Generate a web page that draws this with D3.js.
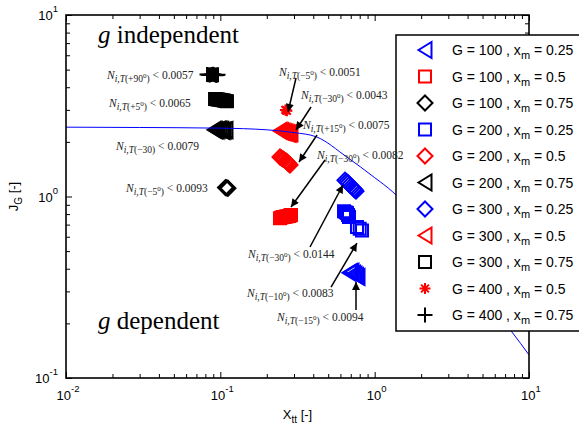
<!DOCTYPE html>
<html><head><meta charset="utf-8">
<script src="https://cdn.jsdelivr.net/npm/d3@7"></script>
<style>body{margin:0;background:#fff}</style>
</head><body>
<svg id="c" width="579" height="427"></svg>
<script>
// ---------- DATA ----------
const gValues  = [100,100,100,200,200,200,300,300,300,400,400];
const xmValues = ["0.25","0.5","0.75","0.25","0.5","0.75","0.25","0.5","0.75","0.5","0.75"];

// [X_tt, J_G] points for each series (overlapping runs)
const G100_xm025 = [[0.682,0.38],[0.697,0.383],[0.713,0.385],[0.73,0.375],[0.746,0.37],[0.763,0.365],[0.78,0.36]];
const G100_xm05  = [[0.2435,0.76],[0.249,0.765],[0.2547,0.77],[0.260,0.772],[0.2664,0.775],[0.272,0.778],[0.2786,0.78],[0.283,0.785],[0.287,0.79]];
const G100_xm075 = [[0.108,1.12],[0.110,1.115],[0.112,1.11]];
const G200_xm025 = [[0.633,0.83],[0.648,0.82],[0.662,0.81],[0.672,0.79],[0.682,0.77],[0.768,0.68],[0.80,0.665],[0.828,0.65]];
const G200_xm05  = [[0.2435,1.65],[0.249,1.63],[0.2547,1.61],[0.260,1.59],[0.2664,1.57],[0.2705,1.55],[0.2745,1.53],[0.2785,1.51],[0.2828,1.49]];
const G200_xm075 = [[0.091,2.33],[0.093,2.32],[0.0952,2.31],[0.097,2.33],[0.0995,2.34],[0.102,2.32],[0.104,2.30],[0.106,2.31],[0.1088,2.32]];
const G300_xm025 = [[0.642,1.23],[0.657,1.21],[0.672,1.19],[0.687,1.165],[0.703,1.14],[0.719,1.12],[0.735,1.10],[0.746,1.085],[0.757,1.07]];
const G300_xm05  = [[0.2435,2.30],[0.249,2.29],[0.2547,2.27],[0.260,2.26],[0.2664,2.25],[0.272,2.23],[0.2786,2.22],[0.283,2.23],[0.287,2.24]];
const G300_xm075 = [[0.0924,3.44],[0.0945,3.43],[0.0966,3.42],[0.0988,3.41],[0.101,3.40],[0.1033,3.39],[0.1056,3.38],[0.108,3.36],[0.1104,3.35]];
const G400_xm05  = [[0.264,3.0],[0.267,2.985],[0.270,2.97]];
const G400_xm075 = [[0.082,4.70],[0.0838,4.69],[0.0857,4.67],[0.0877,4.70],[0.0897,4.72],[0.0917,4.68],[0.0937,4.65],[0.0952,4.67],[0.0966,4.68]];

const correlationX = [0.01,0.03,0.1,0.2,0.3,0.42,0.66,1.0,1.31,2.5,5,7.76,10];
const correlationJ = [2.41,2.40,2.38,2.33,2.25,2.13,1.65,1.27,1.06,0.555,0.277,0.179,0.134];

const xTickValues = [0.01,0.1,1,10];
const xTickExp = ["-2","-1","0","1"];
const yTickValues = [0.1,1,10];
const yTickExp = ["-1","0","1"];

// annotations
const annotAngle  = ["+90","+5","\u221230","\u22125","\u22125","\u221230","+15","\u221230","\u221230","\u221210","\u221215"];
const annotDegree = [true,true,false,true,true,true,true,true,true,true,true];
const annotLimit  = ["0.0057","0.0065","0.0079","0.0093","0.0051","0.0043","0.0075","0.0082","0.0144","0.0083","0.0094"];
const annotLabelX = [0.01843,0.0190,0.02109,0.02448,0.2400,0.3332,0.3433,0.4231,0.1511,0.1489,0.2330];
const annotLabelJ = [4.44,3.112,1.804,1.059,4.612,3.444,2.354,1.609,0.4584,0.2794,0.2061];
const arrowFromX = [0.3093,0.3869,0.4231,0.4768,0.3811,0.5215,0.757];
const arrowFromJ = [4.497,3.112,2.182,1.589,0.527,0.317,0.237];
const arrowToX   = [0.2746,0.3093,0.3233,0.2870,0.6234,0.768,0.757];
const arrowToJ   = [2.922,2.325,1.549,0.875,1.157,0.554,0.338];

// ---------- STYLE / LAYOUT ----------
const seriesData = [G100_xm025,G100_xm05,G100_xm075,G200_xm025,G200_xm05,G200_xm075,G300_xm025,G300_xm05,G300_xm075,G400_xm05,G400_xm075];
const seriesStyle = [
  {shape:"tri",color:"#0000ff"},{shape:"sq",color:"#ff0000"},{shape:"dia",color:"#000"},
  {shape:"sq",color:"#0000ff"},{shape:"dia",color:"#ff0000"},{shape:"tri",color:"#000"},
  {shape:"dia",color:"#0000ff"},{shape:"tri",color:"#ff0000"},{shape:"sq",color:"#000"},
  {shape:"ast",color:"#ff0000"},{shape:"plus",color:"#000"}
];
const shapePath = {
  tri:"M-6.5,0L6.5,-8L6.5,8Z",
  sq:"M-6,-6H6V6H-6Z",
  dia:"M0,-7.5L7.5,0L0,7.5L-7.5,0Z",
  plus:"M-7.5,0H7.5M0,-7.5V7.5",
  ast:"M-5.5,0H5.5M0,-5.5V5.5M-3.9,-3.9L3.9,3.9M-3.9,3.9L3.9,-3.9"
};
const W=579,H=427;
const M={left:66,right:529,top:15,bottom:378};
const sans="'Liberation Sans', Arial, sans-serif";
const serif="'Liberation Serif', 'Times New Roman', serif";

const svg=d3.select("#c");
svg.append("rect").attr("width",W).attr("height",H).attr("fill","#fff");
const x=d3.scaleLog().domain([0.01,10]).range([M.left,M.right]);
const y=d3.scaleLog().domain([0.1,10]).range([M.bottom,M.top]);

const defs=svg.append("defs");
defs.append("clipPath").attr("id","plot").append("rect")
  .attr("x",M.left).attr("y",M.top).attr("width",M.right-M.left).attr("height",M.bottom-M.top);
defs.append("marker").attr("id","arr").attr("viewBox","0 0 10 10").attr("refX",10).attr("refY",5)
  .attr("markerUnits","userSpaceOnUse").attr("markerWidth",9).attr("markerHeight",8).attr("orient","auto")
  .append("path").attr("d","M0,0L10,5L0,10Z").attr("fill","#000");

// ticks
const minorX=[];[0.01,0.1,1].forEach(d=>{for(let k=2;k<=9;k++)minorX.push(d*k);});
const minorY=[];[0.1,1].forEach(d=>{for(let k=2;k<=9;k++)minorY.push(d*k);});
function ax(gen,vals,len,tr){
  const g=svg.append("g").attr("transform",tr)
    .call(gen.tickValues(vals).tickSizeInner(-len).tickSizeOuter(0).tickFormat(""));
  g.select(".domain").remove();
  g.selectAll("line").attr("stroke","#000").attr("stroke-width",1);
}
ax(d3.axisBottom(x),minorX,4,`translate(0,${M.bottom})`);
ax(d3.axisBottom(x),xTickValues,6,`translate(0,${M.bottom})`);
ax(d3.axisTop(x),minorX,4,`translate(0,${M.top})`);
ax(d3.axisTop(x),xTickValues,6,`translate(0,${M.top})`);
ax(d3.axisLeft(y),minorY,4,`translate(${M.left},0)`);
ax(d3.axisLeft(y),yTickValues,6,`translate(${M.left},0)`);
ax(d3.axisRight(y),minorY,4,`translate(${M.right},0)`);
ax(d3.axisRight(y),yTickValues,6,`translate(${M.right},0)`);

// tick labels
xTickValues.forEach((v,i)=>{
  const t=svg.append("text").attr("x",x(v)+2).attr("y",400).attr("text-anchor","middle")
    .attr("font-family",sans).attr("font-size",13).attr("fill","#000");
  t.append("tspan").text("10");
  t.append("tspan").attr("dy",-8).attr("font-size",9.5).text(xTickExp[i]);
});
yTickValues.forEach((v,i)=>{
  const t=svg.append("text").attr("x",M.left-8).attr("y",y(v)+5).attr("text-anchor","end")
    .attr("font-family",sans).attr("font-size",13).attr("fill","#000");
  t.append("tspan").text("10");
  t.append("tspan").attr("dy",-8).attr("font-size",9.5).text(yTickExp[i]);
});

// axis titles
{
  const t=svg.append("text").attr("x",(M.left+M.right)/2).attr("y",419).attr("text-anchor","middle")
    .attr("font-family",sans).attr("font-size",13);
  t.append("tspan").text("X");
  t.append("tspan").attr("dy",4).attr("font-size",10).text("tt");
  t.append("tspan").attr("dy",-4).text(" [-]");
  const u=svg.append("text").attr("transform",`translate(18,${(M.top+M.bottom)/2}) rotate(-90)`)
    .attr("text-anchor","middle").attr("font-family",sans).attr("font-size",13);
  u.append("tspan").text("J");
  u.append("tspan").attr("dy",4).attr("font-size",10).text("G");
  u.append("tspan").attr("dy",-4).text(" [-]");
}

// series markers
const plotG=svg.append("g").attr("clip-path","url(#plot)");
seriesData.forEach((pts,i)=>{
  const st=seriesStyle[i];
  plotG.append("g").selectAll("path").data(pts).join("path")
    .attr("d",shapePath[st.shape])
    .attr("transform",d=>`translate(${x(d[0])},${y(d[1])})`)
    .attr("fill","none").attr("stroke",st.color).attr("stroke-width",2);
});

// correlation curve
const curvePts=correlationX.map((v,i)=>[v,correlationJ[i]]);
plotG.append("path").datum(curvePts)
  .attr("d",d3.line().x(d=>x(d[0])).y(d=>y(d[1])).curve(d3.curveMonotoneX))
  .attr("fill","none").attr("stroke","#0000ff").attr("stroke-width",1);

// frame
svg.append("rect").attr("x",M.left).attr("y",M.top).attr("width",M.right-M.left).attr("height",M.bottom-M.top)
  .attr("fill","none").attr("stroke","#000").attr("stroke-width",1.6);

// region titles
[["independent",98,43],["dependent",98,329]].forEach(r=>{
  const t=svg.append("text").attr("x",r[1]).attr("y",r[2]).attr("font-family",serif).attr("font-size",25);
  t.append("tspan").attr("font-style","italic").text("g");
  t.append("tspan").text(" "+r[0]);
});

// legend
const LG={x:396,y:35,w:200,h:296,row0:50,dy:26.5,mx:425,tx:452};
svg.append("rect").attr("x",LG.x).attr("y",LG.y).attr("width",LG.w).attr("height",LG.h)
  .attr("fill","#fff").attr("stroke","#000").attr("stroke-width",1.5);
gValues.forEach((g,i)=>{
  const cy=LG.row0+i*LG.dy, st=seriesStyle[i];
  svg.append("path").attr("d",shapePath[st.shape]).attr("transform",`translate(${LG.mx},${cy})`)
    .attr("fill","none").attr("stroke",st.color).attr("stroke-width",2);
  const t=svg.append("text").attr("x",LG.tx).attr("y",cy+5).attr("font-family",sans).attr("font-size",14);
  t.append("tspan").text(`G = ${g} , x`);
  t.append("tspan").attr("dy",4).attr("font-size",11).text("m");
  t.append("tspan").attr("dy",-4).text(` = ${xmValues[i]}`);
});

// arrows
arrowFromX.forEach((v,i)=>{
  svg.append("line").attr("x1",x(v)).attr("y1",y(arrowFromJ[i]))
    .attr("x2",x(arrowToX[i])).attr("y2",y(arrowToJ[i]))
    .attr("stroke","#000").attr("stroke-width",1.5).attr("marker-end","url(#arr)");
});

// annotation labels
annotLimit.forEach((lim,i)=>{
  const t=svg.append("text").attr("x",x(annotLabelX[i])).attr("y",y(annotLabelJ[i]))
    .attr("font-family",serif).attr("font-size",11.5).attr("fill","#222");
  t.append("tspan").attr("font-style","italic").text("N");
  t.append("tspan").attr("dy",3).attr("font-size",9.5).attr("font-style","italic").text("i,T");
  t.append("tspan").attr("font-size",9.5).text("("+annotAngle[i]);
  if(annotDegree[i]){
    t.append("tspan").attr("dy",-4).attr("font-size",7).text("0");
    t.append("tspan").attr("dy",4).attr("font-size",9.5).text(")");
  } else {
    t.append("tspan").attr("font-size",9.5).text(")");
  }
  t.append("tspan").attr("dy",-3).text(" < "+lim);
});
</script>
</body></html>
